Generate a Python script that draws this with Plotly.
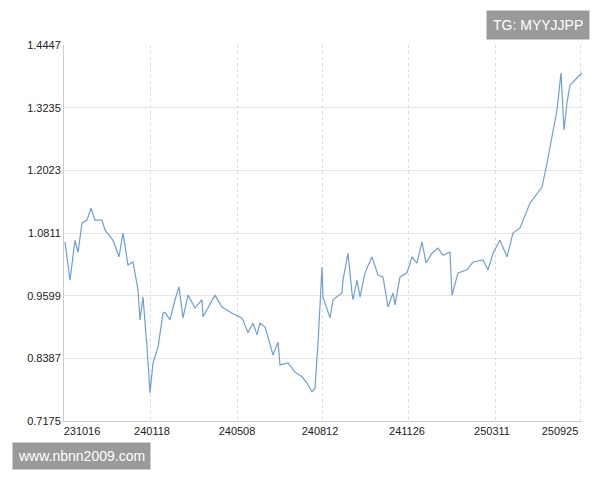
import plotly.graph_objects as go

# trading-day position and net value
day = [65, 70, 75, 78, 82, 87, 91, 95, 102, 105, 113, 119, 123, 128, 133, 138, 140, 143, 147, 150,
       153, 158, 162, 163, 165, 170, 175, 179, 183, 188, 195, 202, 203, 215, 222, 232, 242, 248, 253, 257,
       260, 265, 268, 273, 278, 280, 288, 295, 302, 307, 312, 315, 318, 322, 323, 325, 330, 333, 342, 343,
       348, 352, 353, 357, 360, 365, 372, 378, 383, 388, 393, 395, 400, 407, 412, 417, 422, 426, 432, 438,
       443, 450, 452, 458, 467, 473, 483, 488, 493, 500, 507, 513, 520, 530, 537, 542, 547, 552, 557, 561,
       564, 567, 570, 575, 582]
nav = [1.064, 0.990, 1.067, 1.044, 1.100, 1.106, 1.129, 1.106, 1.106, 1.087, 1.067, 1.035, 1.081, 1.019, 1.025, 0.971, 0.913, 0.957, 0.860, 0.772,
       0.830, 0.860, 0.913, 0.926, 0.928, 0.913, 0.952, 0.977, 0.917, 0.961, 0.936, 0.952, 0.919, 0.961, 0.938, 0.926, 0.917, 0.888, 0.907, 0.884,
       0.907, 0.899, 0.880, 0.845, 0.870, 0.826, 0.830, 0.812, 0.803, 0.791, 0.774, 0.781, 0.868, 1.015, 0.957, 0.946, 0.917, 0.952, 0.965, 0.990,
       1.042, 0.965, 0.952, 0.990, 0.957, 1.004, 1.035, 1.000, 0.996, 0.938, 0.965, 0.942, 0.996, 1.004, 1.035, 1.023, 1.064, 1.023, 1.042, 1.052,
       1.038, 1.044, 0.961, 1.004, 1.010, 1.025, 1.029, 1.010, 1.042, 1.067, 1.035, 1.081, 1.091, 1.139, 1.158, 1.170, 1.216, 1.267, 1.319, 1.391,
       1.280, 1.333, 1.367, 1.377, 1.391]

y_ticks = [0.7175, 0.8387, 0.9599, 1.0811, 1.2023, 1.3235, 1.4447]
x_labels = ["231016", "240118", "240508", "240812", "241126", "250311", "250925"]
x_label_pos = [82, 152, 237, 320, 407, 492, 560]
x_grid_pos = [150, 237, 322, 408, 495, 580]

fig = go.Figure(go.Scatter(x=day, y=nav, mode='lines', line=dict(color='#6f9fd8', width=1.2), hoverinfo='skip'))

fig.update_layout(
    width=600, height=480, paper_bgcolor='white', plot_bgcolor='white', showlegend=False,
    margin=dict(l=56, r=26, t=37, b=67),
    font=dict(family='Liberation Sans, Arial', size=11, color='#333'),
    xaxis=dict(range=[64, 582], tickvals=x_label_pos, ticktext=x_labels, showgrid=False, zeroline=False,
               showline=True, linecolor='#ccc', ticks='', tickfont=dict(size=11, color='#222'),
               minor=dict(tickvals=x_grid_pos, showgrid=True, gridcolor='#ddd', griddash='dot', ticks='')),
    yaxis=dict(range=[0.7175, 1.4447], tickvals=y_ticks, ticktext=[f'{v:.4f}' for v in y_ticks],
               showgrid=True, gridcolor='#e6e6e6', zeroline=False, showline=True, linecolor='#ccc', ticks='',
               tickfont=dict(size=11, color='#222')),
    annotations=[
        dict(text='TG: MYYJJPP', xref='paper', yref='paper', x=1.015, y=1.093, xanchor='right', yanchor='top',
             showarrow=False, bgcolor='#9a9a9a', font=dict(color='white', size=14), borderpad=6),
        dict(text='www.nbnn2009.com', xref='paper', yref='paper', x=-0.1, y=-0.056, xanchor='left', yanchor='top',
             showarrow=False, bgcolor='#9a9a9a', font=dict(color='white', size=14), borderpad=5),
    ],
)

fig.write_html("out.html")
